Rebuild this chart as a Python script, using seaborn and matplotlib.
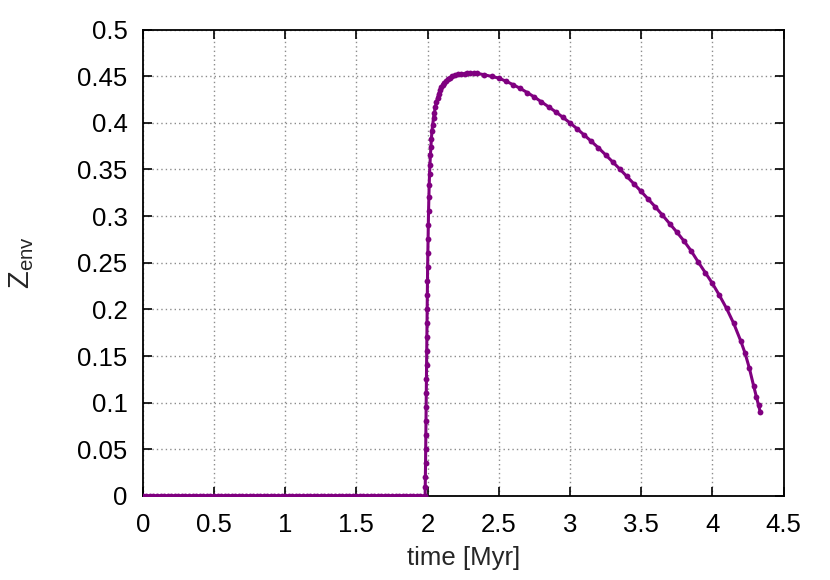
import matplotlib
matplotlib.use("Agg")
import matplotlib.pyplot as plt
import seaborn as sns

# flat part (envelope metallicity zero before ~2 Myr)
flat_time = [0.0, 0.025, 0.05, 0.075, 0.1, 0.125, 0.15, 0.175, 0.2, 0.225,
             0.25, 0.275, 0.3, 0.325, 0.35, 0.375, 0.4, 0.425, 0.45, 0.475,
             0.5, 0.525, 0.55, 0.575, 0.6, 0.625, 0.65, 0.675, 0.7, 0.725,
             0.75, 0.775, 0.8, 0.825, 0.85, 0.875, 0.9, 0.925, 0.95, 0.975,
             1.0, 1.025, 1.05, 1.075, 1.1, 1.125, 1.15, 1.175, 1.2, 1.225,
             1.25, 1.275, 1.3, 1.325, 1.35, 1.375, 1.4, 1.425, 1.45, 1.475,
             1.5, 1.525, 1.55, 1.575, 1.6, 1.625, 1.65, 1.675, 1.7, 1.725,
             1.75, 1.775, 1.8, 1.825, 1.85, 1.875, 1.9, 1.925, 1.95, 1.98]
flat_z = [0.0] * len(flat_time)

# steep rise
rise_time = [1.983, 1.984, 1.985, 1.986, 1.987, 1.988, 1.989, 1.990, 1.991,
             1.992, 1.993, 1.994, 1.995, 1.996, 1.997, 1.998, 1.999, 2.0005,
             2.002, 2.0035, 2.005, 2.007, 2.009, 2.0115, 2.014, 2.017, 2.020,
             2.0235, 2.027, 2.031, 2.036, 2.042, 2.048, 2.055, 2.062, 2.070,
             2.078, 2.087, 2.096, 2.106, 2.116, 2.130, 2.145, 2.160, 2.175,
             2.195, 2.215, 2.235]
rise_z = [0.0, 0.01, 0.02, 0.035, 0.05, 0.065, 0.08, 0.095, 0.11,
          0.125, 0.14, 0.155, 0.17, 0.185, 0.20, 0.215, 0.23, 0.245,
          0.26, 0.275, 0.29, 0.305, 0.32, 0.333, 0.345, 0.355, 0.365,
          0.374, 0.383, 0.391, 0.398, 0.405, 0.411, 0.417, 0.422, 0.427,
          0.431, 0.435, 0.438, 0.441, 0.443, 0.445, 0.447, 0.4485, 0.450,
          0.451, 0.452, 0.4523]

# slow decline
fall_time = [2.26, 2.28, 2.30, 2.325, 2.35, 2.40, 2.45, 2.50, 2.55, 2.60,
             2.65, 2.70, 2.75, 2.80, 2.85, 2.90, 2.95, 3.00, 3.05, 3.10,
             3.15, 3.20, 3.25, 3.30, 3.35, 3.40, 3.45, 3.50, 3.55, 3.60,
             3.65, 3.70, 3.75, 3.80, 3.85, 3.90, 3.95, 4.00, 4.05, 4.10,
             4.15, 4.20, 4.23, 4.26, 4.29, 4.31, 4.325, 4.337]
fall_z = [0.4527, 0.4531, 0.4533, 0.4533, 0.4530, 0.4515, 0.4498, 0.4480,
          0.4447, 0.4410, 0.4370, 0.4325, 0.4277, 0.4225, 0.4172, 0.4118,
          0.4060, 0.4000, 0.3937, 0.3870, 0.3802, 0.3732, 0.3658, 0.3582,
          0.3505, 0.3425, 0.3345, 0.3265, 0.3182, 0.3098, 0.3010, 0.2920,
          0.2830, 0.2735, 0.2630, 0.2510, 0.2395, 0.2280, 0.2150, 0.2010,
          0.1850, 0.1660, 0.1530, 0.1370, 0.1180, 0.1060, 0.0970, 0.0897]

time = flat_time + rise_time + fall_time
zenv = flat_z + rise_z + fall_z

xticks = [0, 0.5, 1, 1.5, 2, 2.5, 3, 3.5, 4, 4.5]
xticklabels = ["0", "0.5", "1", "1.5", "2", "2.5", "3", "3.5", "4", "4.5"]
yticks = [0, 0.05, 0.1, 0.15, 0.2, 0.25, 0.3, 0.35, 0.4, 0.45, 0.5]
yticklabels = ["0", "0.05", "0.1", "0.15", "0.2", "0.25", "0.3", "0.35",
               "0.4", "0.45", "0.5"]

sns.set_style("ticks")
plt.rcParams["font.family"] = ["Liberation Sans", "DejaVu Sans"]
plt.rcParams["mathtext.fontset"] = "custom"
plt.rcParams["mathtext.rm"] = "Liberation Sans"

fig = plt.figure(figsize=(8.3, 5.8), dpi=100)
ax = fig.add_axes([0.172, 0.145, 0.772, 0.804])

sns.lineplot(x=time, y=zenv, ax=ax, color="#800080", linewidth=2.2,
             marker="o", markersize=4.2, markeredgewidth=0, sort=False,
             estimator=None, zorder=3)

ax.set_xlim(0, 4.5)
ax.set_ylim(0, 0.5)
ax.set_xticks(xticks)
ax.set_xticklabels(xticklabels)
ax.set_yticks(yticks)
ax.set_yticklabels(yticklabels)

ax.grid(True, color="#8c8c8c", linestyle=(0, (1, 2.2)), linewidth=1.0)
ax.set_axisbelow(True)

for s in ax.spines.values():
    s.set_visible(True)
    s.set_linewidth(1.3)
    s.set_color("black")

ax.tick_params(axis="both", direction="in", length=6.5, width=1.2,
               top=True, right=True, labelsize=18.5, colors="black")
ax.tick_params(axis="x", pad=12)
ax.tick_params(axis="y", pad=11)

ax.set_xlabel("time [Myr]", fontsize=18.5, labelpad=7)
ax.set_ylabel(r"$\mathregular{Z_{env}}$", fontsize=21)
ax.yaxis.set_label_coords(-0.166, 0.5)

fig.savefig("out.png", dpi=100)
